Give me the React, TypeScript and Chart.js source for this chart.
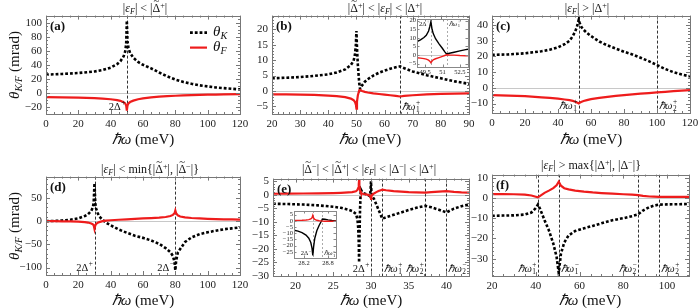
import React, { useEffect, useRef } from 'react';
import { Chart, registerables } from 'chart.js';

Chart.register(...registerables);

const FONT = '"Liberation Serif", "Times New Roman", serif';
const FONT_CSS = "'Liberation Serif', 'Times New Roman', serif";
const RED = '#ee1c1c';

// ---------------- Panel (a)
const aX = [0, 10, 20, 30, 35, 40, 44, 46, 48, 49, 49.6, 50, 50.4, 51, 52, 54, 57, 60, 65, 70, 75, 80, 85, 90, 95, 100, 105, 110, 120];
const aK = [26, 27, 28.3, 30.5, 32.5, 36, 41, 45, 52, 59, 70, 103, 74, 64, 57, 50, 44, 40, 35, 29, 23.5, 19, 15.5, 13, 10.8, 9.3, 7.8, 6.8, 5];
const aF = [-6, -6.3, -6.8, -7.5, -8, -9, -10.3, -11.3, -13.2, -15, -18, -25, -18, -15, -13, -11, -9, -7.8, -6.3, -5.3, -4.6, -4, -3.5, -3.1, -2.8, -2.5, -2.3, -2.1, -1.8];
const aXTicks = [0, 20, 40, 60, 80, 100, 120];
const aYTicks = [-20, 0, 20, 40, 60, 80, 100];
const aLines = [50];

// ---------------- Panel (b)
const bX = [20, 25, 30, 35, 40, 43, 46, 48, 49, 49.5, 49.8, 50, 50.2, 50.5, 51, 51.3, 52, 53, 54, 56, 58, 60, 62, 64, 65.5, 67, 70, 75, 80, 85, 90];
const bK = [4.1, 4.3, 4.5, 4.9, 5.4, 6, 7, 8.4, 9.8, 12, 15, 19.5, 14, 8.5, 2.5, 0.6, 1.8, 3, 3.8, 5, 5.9, 6.6, 7.2, 7.7, 8, 7.4, 6.3, 5.1, 4.1, 3.1, 2.3];
const bF = [-1.1, -1.15, -1.2, -1.3, -1.5, -1.7, -2.0, -2.5, -3.0, -3.6, -4.5, -5.8, -3.5, -1.5, 0.2, 0.3, 0.0, -0.3, -0.5, -0.8, -1.0, -1.2, -1.4, -1.6, -1.8, -1.6, -1.4, -1.1, -0.95, -0.85, -0.8];
const bXTicks = [20, 30, 40, 50, 60, 70, 80, 90];
const bYTicks = [-5, 0, 5, 10, 15, 20];
const bLines = [65.5];

// inset of (b)
const biX = [48.8, 49.1, 49.4, 49.6, 49.8, 49.9, 50, 50.1, 50.2, 50.4, 50.7, 51, 51.2, 51.35, 51.6, 52, 52.5, 53, 53.2];
const biK = [7.8, 8.8, 10.2, 11.5, 14, 16.5, 19.5, 15, 12.5, 9.5, 6.5, 3.8, 1.8, 0.6, 1.0, 1.6, 2.4, 3.1, 3.4];
const biF = [-1.6, -1.8, -2.1, -2.4, -3, -3.6, -4.5, -3.5, -2.8, -2.2, -1.5, -0.8, -0.3, 0.1, 0, -0.1, -0.3, -0.4, -0.5];
const biXTicks = [49.5, 51, 52.5];
const biYTicks = [-5, 0, 5, 10, 15, 20];
const biLines = [50, 51.35];

// ---------------- Panel (c)
const cX = [0, 10, 20, 30, 35, 40, 44, 47, 49, 50.5, 51.5, 52.1, 52.6, 53.1, 54, 55.5, 57.5, 60, 65, 70, 75, 80, 85, 90, 95, 100, 105, 110, 115, 120];
const cK = [21, 21.3, 22, 23.3, 24.3, 25.8, 27.8, 30, 33, 36, 39, 41.5, 43.5, 41.5, 39, 37, 35, 33, 29.5, 27, 25, 23, 21.3, 19.2, 17, 14.5, 12, 10, 8.5, 7.3];
const cF = [-4.6, -4.9, -5.3, -6, -6.4, -6.9, -7.4, -7.8, -8.3, -8.8, -9.3, -9.6, -9.9, -9.5, -9, -8.4, -7.8, -7.2, -6.4, -5.7, -5.1, -4.6, -4.1, -3.7, -3.3, -2.9, -2.5, -2.1, -1.8, -1.5];
const cXTicks = [0, 20, 40, 60, 80, 100, 120];
const cYTicks = [-10, 0, 10, 20, 30, 40];
const cLines = [52.6, 100];

// ---------------- Panel (d)
const dX = [0, 5, 10, 15, 20, 24, 26, 28, 29, 29.5, 30, 30.5, 31, 32, 33, 35, 37, 40, 45, 50, 55, 60, 65, 70, 74, 77, 78.5, 79.5, 80, 80.5, 81.5, 83, 86, 90, 95, 100, 105, 110, 115, 120];
const dK = [0, 0.5, 1.5, 3, 6, 11, 15, 22, 30, 40, 82, 38, 27, 17, 10, 3, -3, -9, -18, -25, -31.5, -36, -41.5, -49, -58, -67, -75, -88, -106, -85, -68, -60, -45, -35, -28, -24, -20.5, -17.5, -15.5, -13.5];
const dF = [0, 0, -0.3, -0.6, -1.2, -2.2, -3, -5, -7, -9, -17, -9, -6, -3.5, -2, 0, 1, 2, 3, 4, 5, 5.8, 6.7, 7.8, 9, 11, 13.5, 17, 23, 17, 12.5, 10, 8, 6.8, 5.8, 5, 4.5, 4, 3.7, 3.4];
const dXTicks = [0, 20, 40, 60, 80, 100, 120];
const dYTicks = [-100, -50, 0, 50];
const dLines = [30, 80];

// ---------------- Panel (e)
const eX = [17, 19, 21, 23, 25, 26, 27, 27.5, 28, 28.2, 28.3, 28.38, 28.42, 28.46, 28.55, 28.65, 28.8, 29, 29.3, 29.6, 29.85, 29.95, 30, 30.05, 30.15, 30.4, 30.7, 31, 31.3, 31.5, 32, 33, 34, 35, 36, 37.2, 38, 39, 40, 41, 42, 43];
const eK = [-3.3, -3.4, -3.6, -3.9, -4.4, -4.8, -5.5, -6, -7, -9, -12, -18, -25, -17, -5, 2, 1.2, 0.6, 0.3, 0, -0.5, 2, 5, 1, -0.5, -1.5, -3.5, -5.5, -7.5, -8.8, -8.3, -7.4, -6.5, -5.6, -4.8, -4.1, -4.6, -5.5, -6.5, -5.1, -4.2, -3.6];
const eF = [0.4, 0.45, 0.5, 0.55, 0.65, 0.75, 0.9, 1.0, 1.3, 1.8, 2.5, 4, 5.5, 3.5, 1.5, 0.8, 0.5, 0.3, 0.2, 0, -0.3, -0.8, -1.5, -0.6, 0, 0.5, 1, 1.4, 1.7, 1.9, 1.7, 1.4, 1.2, 1.0, 0.9, 0.8, 1.0, 1.2, 1.4, 1.1, 0.9, 0.8];
const eXTicks = [20, 25, 30, 35, 40];
const eYTicks = [-30, -25, -20, -15, -10, -5, 0, 5];
const eLines = [30, 31.5, 37.2, 40];

// inset of (e)
const eiX = [27.95, 28.05, 28.15, 28.25, 28.32, 28.37, 28.4, 28.42, 28.44, 28.47, 28.52, 28.58, 28.63, 28.66, 28.72, 28.8, 28.9, 29.0];
const eiK = [-7.5, -8.3, -9.5, -11.5, -14, -17.5, -22, -28, -21, -14, -8, -3.5, -0.5, 1.5, 1.3, 0.8, 0.3, 0];
const eiF = [0.3, 0.4, 0.5, 0.7, 1, 1.6, 2.5, 4.5, 2.3, 1.2, 0.5, 0.1, 0, -0.2, -0.3, -0.3, -0.3, -0.3];
const eiXTicks = [28.2, 28.8];
const eiYTicks = [-25, -20, -15, -10, -5, 0, 5];
const eiLines = [28.42, 28.65];

// ---------------- Panel (f)
const fX = [20, 25, 30, 35, 38, 40, 41, 42, 44, 46, 48, 49.5, 50.5, 51.5, 53, 55, 58, 62, 66, 70, 75, 80, 84, 86.8, 89, 92, 94, 96.4, 100, 105, 110];
const fK = [-8.8, -8.7, -8.6, -8.2, -7.2, -5, -3.2, -5.5, -11, -16, -22.5, -29, -37, -27.5, -22, -18.5, -16.3, -15, -13.8, -12.5, -11, -10, -9, -8.1, -6.2, -4.5, -3.8, -3.3, -3.2, -3.1, -3.0];
const fF = [1.9, 1.9, 1.8, 1.6, 1.2, 0.6, 0.3, 1.0, 2.5, 3.6, 4.8, 6.2, 8, 6, 4.8, 4.2, 3.6, 3.1, 2.7, 2.4, 2.1, 1.8, 1.6, 1.4, 1.0, 0.7, 0.6, 0.5, 0.5, 0.5, 0.5];
const fXTicks = [20, 40, 60, 80, 100];
const fYTicks = [-30, -20, -10, 0, 10];
const fLines = [41, 50.5, 86.8, 96.4];

// ---------------- types & helpers
type Seg = { t?: string; it?: boolean; b?: boolean; sub?: string; sup?: string };
type Note = { x: number; side: 'L' | 'R'; at: 'top' | 'bottom'; segs: Seg[] };

interface Panel {
  key: string;
  box: [number, number, number, number];
  xr: [number, number];
  yr: [number, number];
  xTicks: number[];
  yTicks: number[];
  xMinor: number;
  yMinor: number;
  xs: number[];
  k: number[];
  f: number[];
  vlines: number[];
  notes: Note[];
  tag?: string;
  legend?: boolean;
  inset?: boolean;
}

const HW = (n: string, s: string): Seg[] => [{ t: '\u210Fω', it: true }, { sub: n, sup: s }];
const D2 = (s: string): Seg[] => [{ t: '2Δ' }, { sup: s }];

const MAIN = { tick: 11, note: 10.5, pad: { l: 42, r: 14, t: 10, b: 22 }, tickPad: 4, maj: 4, min: 2, blackW: 2.6, dash: [2.8, 2.0], redW: 2.2, vColor: '#333', vDash: [3, 2], frame: '#777' };
const INSET = { tick: 6.5, note: 6.5, pad: { l: 13, r: 10, t: 5, b: 9 }, tickPad: 1, maj: 2.5, min: 0, blackW: 1.4, dash: [] as number[], redW: 1.4, vColor: '#aaa', vDash: [2, 2], frame: '#888' };

const fmt = (v: number) => (v < 0 ? '\u2212' : '') + String(Math.abs(Math.round(v * 100) / 100));

function segFont(it: boolean | undefined, b: boolean | undefined, size: number) {
  return `${it ? 'italic ' : ''}${b ? 'bold ' : ''}${size}px ${FONT}`;
}
function measureSegs(ctx: CanvasRenderingContext2D, segs: Seg[], size: number) {
  let w = 0;
  for (const s of segs) {
    if (s.t) {
      ctx.font = segFont(s.it, s.b, size);
      w += ctx.measureText(s.t).width;
    } else {
      ctx.font = segFont(false, false, size * 0.7);
      const a = s.sub ? ctx.measureText(s.sub).width : 0;
      const c = s.sup ? ctx.measureText(s.sup).width : 0;
      w += Math.max(a, c) + 0.5;
    }
  }
  return w;
}
function drawSegs(ctx: CanvasRenderingContext2D, segs: Seg[], x: number, base: number, size: number, color = '#111') {
  ctx.fillStyle = color;
  ctx.textBaseline = 'alphabetic';
  ctx.textAlign = 'left';
  let cx = x;
  for (const s of segs) {
    if (s.t) {
      ctx.font = segFont(s.it, s.b, size);
      ctx.fillText(s.t, cx, base);
      cx += ctx.measureText(s.t).width;
    } else {
      ctx.font = segFont(false, false, size * 0.7);
      let w = 0;
      if (s.sub) {
        ctx.fillText(s.sub, cx + 0.5, base + size * 0.22);
        w = Math.max(w, ctx.measureText(s.sub).width);
      }
      if (s.sup) {
        ctx.fillText(s.sup, cx + 0.5, base - size * 0.42);
        w = Math.max(w, ctx.measureText(s.sup).width);
      }
      cx += w + 0.5;
    }
  }
}

function drawAxisTicks(ctx: CanvasRenderingContext2D, scale: any, ca: any, majors: number[], minorStep: number, horiz: boolean, majLen: number, minLen: number) {
  const draw = (v: number, len: number) => {
    const p = Math.round(scale.getPixelForValue(v)) + 0.5;
    if (horiz) {
      ctx.moveTo(p, ca.bottom); ctx.lineTo(p, ca.bottom - len);
      ctx.moveTo(p, ca.top); ctx.lineTo(p, ca.top + len);
    } else {
      ctx.moveTo(ca.left, p); ctx.lineTo(ca.left + len, p);
      ctx.moveTo(ca.right, p); ctx.lineTo(ca.right - len, p);
    }
  };
  ctx.beginPath();
  majors.forEach((v) => draw(v, majLen));
  if (minorStep > 0 && minLen > 0) {
    const start = Math.ceil(scale.min / minorStep - 1e-9);
    const end = Math.floor(scale.max / minorStep + 1e-9);
    for (let i = start; i <= end; i++) {
      const v = i * minorStep;
      if (majors.some((m) => Math.abs(m - v) < minorStep * 0.01)) continue;
      draw(v, minLen);
    }
  }
  ctx.stroke();
}

const PANELS: Panel[] = [
  { key: 'a', box: [46, 15, 240, 114], xr: [0, 120], yr: [-30, 110], xTicks: aXTicks, yTicks: aYTicks, xMinor: 5, yMinor: 5, xs: aX, k: aK, f: aF, vlines: aLines, notes: [{ x: 50, side: 'L', at: 'bottom', segs: D2('+') }], tag: '(a)', legend: true },
  { key: 'b', box: [272, 15, 469, 114], xr: [20, 90], yr: [-7.5, 24.5], xTicks: bXTicks, yTicks: bYTicks, xMinor: 2, yMinor: 1, xs: bX, k: bK, f: bF, vlines: bLines, notes: [{ x: 65.5, side: 'R', at: 'bottom', segs: HW('1', '+') }], tag: '(b)' },
  { key: 'c', box: [492, 15, 690, 113], xr: [0, 120], yr: [-16, 46], xTicks: cXTicks, yTicks: cYTicks, xMinor: 5, yMinor: 2, xs: cX, k: cK, f: cF, vlines: cLines, notes: [{ x: 52.6, side: 'L', at: 'bottom', segs: HW('1', '+') }, { x: 100, side: 'R', at: 'bottom', segs: HW('2', '+') }], tag: '(c)' },
  { key: 'd', box: [46, 176, 240, 275], xr: [0, 120], yr: [-116, 96], xTicks: dXTicks, yTicks: dYTicks, xMinor: 5, yMinor: 10, xs: dX, k: dK, f: dF, vlines: dLines, notes: [{ x: 30, side: 'L', at: 'bottom', segs: D2('+') }, { x: 80, side: 'L', at: 'bottom', segs: D2('\u2212') }], tag: '(d)' },
  { key: 'e', box: [273, 178, 469, 276], xr: [17, 43], yr: [-30, 6], xTicks: eXTicks, yTicks: eYTicks, xMinor: 1, yMinor: 1, xs: eX, k: eK, f: eF, vlines: eLines, notes: [{ x: 30, side: 'L', at: 'bottom', segs: D2('+') }, { x: 31.5, side: 'R', at: 'bottom', segs: HW('1', '+') }, { x: 37.2, side: 'L', at: 'bottom', segs: HW('2', '+') }, { x: 40, side: 'R', at: 'bottom', segs: HW('2', '\u2212') }], tag: '(e)' },
  { key: 'f', box: [492, 174, 689, 276], xr: [20, 110], yr: [-38.5, 11.5], xTicks: fXTicks, yTicks: fYTicks, xMinor: 5, yMinor: 2, xs: fX, k: fK, f: fF, vlines: fLines, notes: [{ x: 41, side: 'L', at: 'bottom', segs: HW('1', '+') }, { x: 50.5, side: 'R', at: 'bottom', segs: HW('1', '\u2212') }, { x: 86.8, side: 'L', at: 'bottom', segs: HW('2', '\u2212') }, { x: 96.4, side: 'R', at: 'bottom', segs: HW('2', '+') }], tag: '(f)' },
  { key: 'bi', box: [417, 19, 468, 67], xr: [48.8, 53.2], yr: [-7, 21], xTicks: biXTicks, yTicks: biYTicks, xMinor: 0, yMinor: 0, xs: biX, k: biK, f: biF, vlines: biLines, notes: [{ x: 50, side: 'L', at: 'top', segs: D2('+') }, { x: 51.35, side: 'R', at: 'top', segs: HW('1', '+') }], inset: true },
  { key: 'ei', box: [294, 211, 336, 258], xr: [27.95, 29.0], yr: [-30, 8], xTicks: eiXTicks, yTicks: eiYTicks, xMinor: 0, yMinor: 0, xs: eiX, k: eiK, f: eiF, vlines: eiLines, notes: [{ x: 28.42, side: 'L', at: 'bottom', segs: D2('\u2212') }, { x: 28.65, side: 'R', at: 'bottom', segs: HW('1', '\u2212') }], inset: true },
];

function makeChart(canvas: HTMLCanvasElement, p: Panel) {
  const S = p.inset ? INSET : MAIN;
  const pts = (ys: number[]) => p.xs.map((x, i) => ({ x, y: ys[i] }));
  const plugin = {
    id: 'deco_' + p.key,
    beforeDatasetsDraw(chart: any) {
      const { ctx, chartArea: ca, scales } = chart;
      const x = scales.x, y = scales.y;
      ctx.save();
      if (p.inset) {
        ctx.fillStyle = '#fff';
        ctx.fillRect(ca.left, ca.top, ca.right - ca.left, ca.bottom - ca.top);
      }
      ctx.beginPath();
      ctx.rect(ca.left, ca.top, ca.right - ca.left, ca.bottom - ca.top);
      ctx.clip();
      const y0 = Math.round(y.getPixelForValue(0)) + 0.5;
      ctx.strokeStyle = '#c8c8c8';
      ctx.lineWidth = 1;
      ctx.beginPath();
      ctx.moveTo(ca.left, y0);
      ctx.lineTo(ca.right, y0);
      ctx.stroke();
      ctx.setLineDash(S.vDash);
      ctx.strokeStyle = S.vColor;
      ctx.beginPath();
      for (const v of p.vlines) {
        const px = Math.round(x.getPixelForValue(v)) + 0.5;
        ctx.moveTo(px, ca.top);
        ctx.lineTo(px, ca.bottom);
      }
      ctx.stroke();
      ctx.restore();
    },
    afterDatasetsDraw(chart: any) {
      const { ctx, chartArea: ca, scales } = chart;
      const x = scales.x, y = scales.y;
      ctx.save();
      ctx.strokeStyle = S.frame;
      ctx.lineWidth = 1;
      ctx.strokeRect(Math.round(ca.left) + 0.5, Math.round(ca.top) + 0.5, Math.round(ca.right - ca.left), Math.round(ca.bottom - ca.top));
      drawAxisTicks(ctx, x, ca, p.xTicks, p.xMinor, true, S.maj, S.min);
      drawAxisTicks(ctx, y, ca, p.yTicks, p.yMinor, false, S.maj, S.min);
      for (const n of p.notes) {
        const px = x.getPixelForValue(n.x);
        const w = measureSegs(ctx, n.segs, S.note);
        const base = n.at === 'bottom' ? ca.bottom - S.note * 0.4 : ca.top + S.note * 1.0;
        const left = n.side === 'L' ? px - 1.5 - w : px + 2;
        drawSegs(ctx, n.segs, left, base, S.note);
      }
      if (p.tag) drawSegs(ctx, [{ t: p.tag, b: true }], ca.left + 4, ca.top + 14, 13);
      if (p.legend) {
        const x0 = ca.right - 50, x1 = ca.right - 33;
        ctx.lineWidth = MAIN.blackW;
        ctx.strokeStyle = '#000';
        ctx.setLineDash(MAIN.dash);
        ctx.beginPath();
        ctx.moveTo(x0, ca.top + 17);
        ctx.lineTo(x1, ca.top + 17);
        ctx.stroke();
        ctx.setLineDash([]);
        ctx.lineWidth = MAIN.redW;
        ctx.strokeStyle = RED;
        ctx.beginPath();
        ctx.moveTo(x0, ca.top + 32);
        ctx.lineTo(x1, ca.top + 32);
        ctx.stroke();
      }
      ctx.restore();
    },
  };
  const tickOpts = () => ({
    font: { family: FONT, size: S.tick },
    color: '#222',
    padding: S.tickPad,
    maxRotation: 0,
    autoSkip: false,
    callback: (v: any) => fmt(Number(v)),
  });
  return new Chart(canvas, {
    type: 'line',
    data: {
      datasets: [
        { label: 'θF', data: pts(p.f), borderColor: RED, borderWidth: S.redW, pointRadius: 0, tension: 0, clip: 0 } as any,
        { label: 'θK', data: pts(p.k), borderColor: '#000', borderWidth: S.blackW, borderDash: S.dash, borderCapStyle: 'butt', pointRadius: 0, tension: 0, clip: 0 } as any,
      ],
    },
    options: {
      responsive: false,
      animation: false,
      events: [],
      layout: { padding: { left: 0, top: S.pad.t, right: S.pad.r, bottom: 0 } },
      plugins: { legend: { display: false }, tooltip: { enabled: false } },
      scales: {
        x: {
          type: 'linear', min: p.xr[0], max: p.xr[1],
          afterBuildTicks: (s: any) => { s.ticks = p.xTicks.map((v) => ({ value: v })); },
          afterFit: (s: any) => { s.height = S.pad.b; },
          grid: { display: false, drawTicks: false }, border: { display: false },
          ticks: tickOpts(),
        },
        y: {
          type: 'linear', min: p.yr[0], max: p.yr[1],
          afterBuildTicks: (s: any) => { s.ticks = p.yTicks.map((v) => ({ value: v })); },
          afterFit: (s: any) => { s.width = S.pad.l; },
          grid: { display: false, drawTicks: false }, border: { display: false },
          ticks: tickOpts(),
        },
      },
    } as any,
    plugins: [plugin],
  });
}

function PlotCanvas({ p }: { p: Panel }) {
  const ref = useRef<HTMLCanvasElement>(null);
  const S = p.inset ? INSET : MAIN;
  const W = p.box[2] - p.box[0] + S.pad.l + S.pad.r;
  const H = p.box[3] - p.box[1] + S.pad.t + S.pad.b;
  useEffect(() => {
    const chart = makeChart(ref.current as HTMLCanvasElement, p);
    let alive = true;
    const fonts = (document as any).fonts;
    if (fonts && fonts.load) {
      Promise.all([
        fonts.load('11px "Liberation Serif"'),
        fonts.load('italic 11px "Liberation Serif"'),
        fonts.load('bold 11px "Liberation Serif"'),
      ]).then(() => { if (alive) chart.update(); }).catch(() => {});
    }
    return () => { alive = false; chart.destroy(); };
  }, []);
  return (
    <canvas
      ref={ref}
      width={W}
      height={H}
      style={{ position: 'absolute', left: p.box[0] - S.pad.l, top: p.box[1] - S.pad.t, width: W, height: H }}
    />
  );
}

const Sub = ({ c }: { c: React.ReactNode }) => (
  <span style={{ fontSize: '0.68em', position: 'relative', top: '0.3em' }}>{c}</span>
);
const Sup = ({ c }: { c: React.ReactNode }) => (
  <span style={{ fontSize: '0.68em', position: 'relative', top: '-0.5em' }}>{c}</span>
);
const EpsF = () => (<><i>ε</i><Sub c={<i>F</i>} /></>);
const DT = () => (
  <span style={{ position: 'relative', display: 'inline-block' }}>
    Δ
    <span style={{ position: 'absolute', left: 0, right: 0, top: '-0.62em', textAlign: 'center', fontSize: '0.9em' }}>~</span>
  </span>
);

function Label({ x, y, size, rot, left, children }: { x: number; y: number; size: number; rot?: boolean; left?: boolean; children: React.ReactNode }) {
  return (
    <div
      style={{
        position: 'absolute', left: x, top: y,
        transform: `translate(${left ? '0' : '-50%'},-50%)${rot ? ' rotate(-90deg)' : ''}`,
        fontSize: size, fontFamily: FONT_CSS, whiteSpace: 'nowrap', lineHeight: 1, color: '#111',
      }}
    >
      {children}
    </div>
  );
}

const XT = () => (<><i>{'\u210F'}ω</i> (meV)</>);
const YT = () => (<><i>θ</i><Sub c={<i>K/F</i>} /> (mrad)</>);
const M = '\u2212';

export default function App() {
  return (
    <div style={{ position: 'absolute', left: 0, top: 0, width: 698, height: 308, background: '#fff', overflow: 'hidden', fontFamily: FONT_CSS }}>
      {PANELS.map((p) => (<PlotCanvas key={p.key} p={p} />))}

      <Label x={145} y={8} size={12}>|<EpsF />| &lt; |<DT /><Sup c="+" />|</Label>
      <Label x={385} y={8} size={12}>|<DT /><Sup c="+" />| &lt; |<EpsF />| &lt; |Δ<Sup c="+" />|</Label>
      <Label x={587} y={8} size={12}>|<EpsF />| &gt; |Δ<Sup c="+" />|</Label>
      <Label x={150} y={169} size={12}>|<EpsF />| &lt; min{'{'}|<DT /><Sup c="+" />|, |<DT /><Sup c={M} />|{'}'}</Label>
      <Label x={369} y={169} size={12}>|<DT /><Sup c={M} />| &lt; |<DT /><Sup c="+" />| &lt; |<EpsF />| &lt; |Δ<Sup c={M} />| &lt; |Δ<Sup c="+" />|</Label>
      <Label x={591} y={165} size={12}>|<EpsF />| &gt; max{'{'}|Δ<Sup c="+" />|, |Δ<Sup c={M} />|{'}'}</Label>

      <Label x={143} y={139} size={15}><XT /></Label>
      <Label x={370} y={139} size={15}><XT /></Label>
      <Label x={591} y={139} size={15}><XT /></Label>
      <Label x={143} y={300} size={15}><XT /></Label>
      <Label x={371} y={300} size={15}><XT /></Label>
      <Label x={590} y={300} size={15}><XT /></Label>

      <Label x={14} y={65} size={15} rot><YT /></Label>
      <Label x={14} y={226} size={15} rot><YT /></Label>

      <Label x={213} y={31} size={15} left><i>θ</i><Sub c={<i>K</i>} /></Label>
      <Label x={213} y={46} size={15} left><i>θ</i><Sub c={<i>F</i>} /></Label>
    </div>
  );
}
